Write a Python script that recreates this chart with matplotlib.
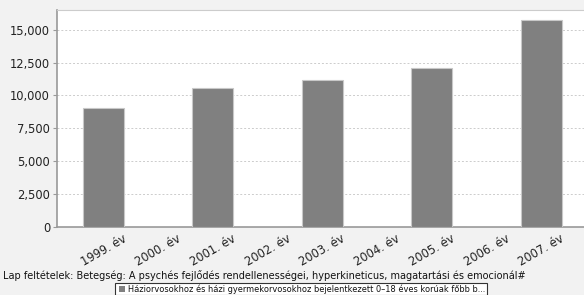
import numpy as np
import matplotlib.pyplot as plt
from matplotlib.patches import Rectangle

# values
years = ["1999. év", "2000. év", "2001. év", "2002. év", "2003. év",
         "2004. év", "2005. év", "2006. év", "2007. év"]
values = [9050, 0, 10600, 0, 11200, 0, 12100, 0, 15750]
yticks = [0, 2500, 5000, 7500, 10000, 12500, 15000]
caption = ("Lap feltételek: Betegség: A psychés fejlődés rendellenességei, "
           "hyperkineticus, magatartási és emocionál#")
legend_label = ("Háziorvosokhoz és házi gyermekorvosokhoz bejelentkezett "
                "0–18 éves korúak főbb b...")

fig = plt.figure(figsize=(5.84, 2.95), dpi=100)
fig.patch.set_facecolor("#f2f2f2")

ax = fig.add_axes([57 / 584, 1 - 227 / 295, 1 - 57 / 584, 217 / 295])
ax.set_facecolor("white")

x = np.arange(len(years))
ax.bar(x, values, width=0.75, color="#808080", edgecolor="#c8c8c8", linewidth=0.8, zorder=3)

ax.set_xlim(-0.85, 8.78)
ax.set_ylim(0, 16500)
ax.set_yticks(yticks)
ax.set_yticklabels([f"{v:,}" for v in yticks], fontsize=8.3, color="#222222")
ax.set_xticks(x)
ax.set_xticklabels(years, rotation=30, ha="center", fontsize=8.3, color="#222222")
ax.tick_params(axis="x", length=0, pad=4)
ax.tick_params(axis="y", length=3, color="#999999", pad=2)
ax.grid(axis="y", color="#cccccc", linestyle=(0, (2, 2)), linewidth=0.7, zorder=0)

ax.spines["right"].set_visible(False)
for side in ["left", "bottom"]:
    ax.spines[side].set_color("#999999")
    ax.spines[side].set_linewidth(1.2)
ax.spines["top"].set_color("#cccccc")

fig.text(3 / 584, 1 - 276 / 295, caption, fontsize=7.0, color="#111111", va="center", ha="left")

# legend box
fig.patches.append(Rectangle((115 / 584, 0.0), 372 / 584, 12 / 295, transform=fig.transFigure,
                             facecolor="white", edgecolor="#333333", linewidth=0.8))
fig.patches.append(Rectangle((119 / 584, 3 / 295), 6 / 584, 6 / 295, transform=fig.transFigure,
                             facecolor="#808080", edgecolor="none"))
fig.text(128 / 584, 6 / 295, legend_label, fontsize=5.95, color="#111111", va="center", ha="left")

fig.savefig("out.png", dpi=100, facecolor=fig.get_facecolor())
